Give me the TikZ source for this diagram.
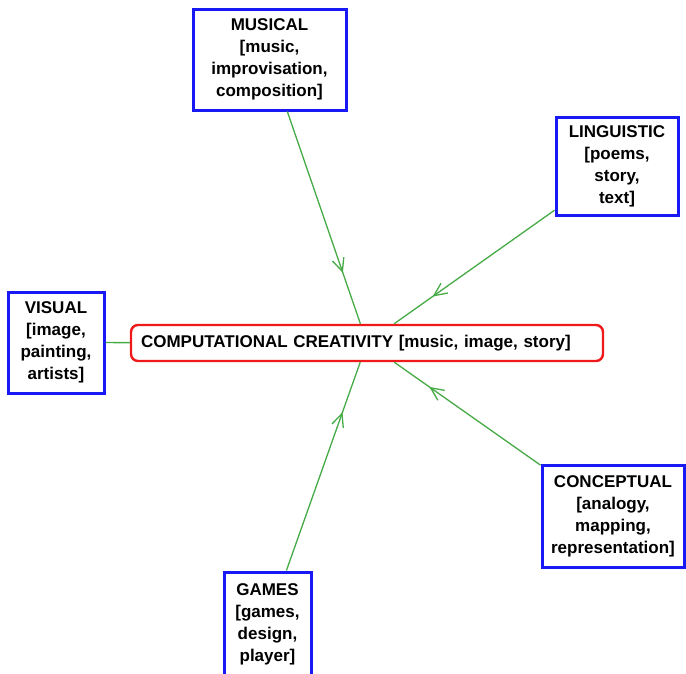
\documentclass[tikz,border=0pt]{standalone}
\usepackage{fontspec}
\setmainfont{Liberation Sans}
\usetikzlibrary{arrows.meta,decorations.markings}
\definecolor{areablue}{RGB}{25,25,245}
\definecolor{hubred}{RGB}{240,25,25}
\definecolor{wiregreen}{RGB}{70,170,70}

\begin{document}
\begin{tikzpicture}[x=1pt, y=-1pt,
     font=\bfseries\fontsize{17}{22}\selectfont,
     text=black,
     area/.style={draw=areablue, line width=3pt, align=center, inner sep=0pt},
     hub/.style={draw=hubred, line width=2.4pt, rounded corners=7pt, align=left,
         text width=452pt, inner xsep=10pt, minimum height=36pt},
     wire/.style={wiregreen, line width=1.3pt},
     feed/.style={wire, postaction={decorate}, decoration={markings,
         mark=at position 0.76 with {\arrow{Straight Barb[length=13pt,width=12pt]}}}}]
\useasboundingbox (0,0) rectangle (686,673);
\node[hub] (core) at (367,343) {COMPUTATIONAL CREATIVITY [music, image, story]};
\node[area, minimum width=153pt, minimum height=101pt] (musical) at (269.5,59.5)
     {MUSICAL\\ {[music,}\\ improvisation,\\ composition]};
\node[area, minimum width=122pt, minimum height=98pt] (linguistic) at (617,166)
     {LINGUISTIC\\ {[poems,}\\ story,\\ text]};
\node[area, minimum width=96pt, minimum height=101pt] (visual) at (56,342.5)
     {VISUAL\\ {[image,}\\ painting,\\ artists]};
\node[area, minimum width=142pt, minimum height=102pt] (conceptual) at (613,516)
     {CONCEPTUAL\\ {[analogy,}\\ mapping,\\ representation]};
\node[area, minimum width=87pt, minimum height=104pt] (games) at (267.5,624)
     {GAMES\\ {[games,}\\ design,\\ player]};
\foreach \src in {musical, linguistic, conceptual, games}
    \draw[feed] (\src) -- (core);
\draw[wire] (visual) -- (core);
\end{tikzpicture}
\end{document}
